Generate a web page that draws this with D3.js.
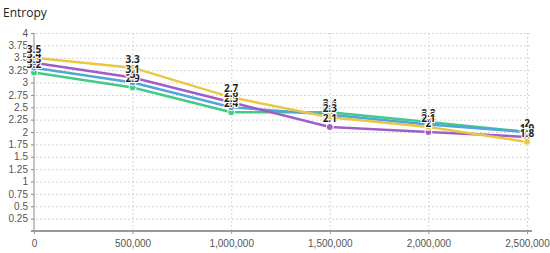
<!DOCTYPE html>
<html>
<head>
<meta charset="utf-8">
<script src="https://cdn.jsdelivr.net/npm/d3@7"></script>
<style>
  body { margin: 0; background: #fff; font-family: "Open Sans", sans-serif; }
  .grid line { stroke: #c8c8c8; stroke-dasharray: 1.5 2.5; }
  .axis text { fill: #555; font-size: 10px; }
</style>
</head>
<body>
<div class="chart"></div>
<script>
var steps = [0, 500000, 1000000, 1500000, 2000000, 2500000];
var yTicks = [0.25, 0.5, 0.75, 1, 1.25, 1.5, 1.75, 2, 2.25, 2.5, 2.75, 3, 3.25, 3.5, 3.75, 4];

var green = [3.2, 2.9, 2.4, 2.4, 2.2, 2.0];
var blue = [3.3, 3.0, 2.5, 2.35, 2.15, 2.0];
var purple = [3.4, 3.1, 2.6, 2.1, 2.0, 1.9];
var yellow = [3.5, 3.3, 2.7, 2.3, 2.1, 1.8];

var series = [
  { name: 'green', values: green, color: '#45c987' },
  { name: 'blue', values: blue, color: '#4ea6dc' },
  { name: 'purple', values: purple, color: '#a05cc8' },
  { name: 'yellow', values: yellow, color: '#ebc642' }
];

var width = 550, height = 253;
var svg = d3.select('.chart').append('svg').attr('width', width).attr('height', height);

var x = d3.scaleLinear().domain([0, 2500000]).range([34, 527]);
var y = d3.scaleLinear().domain([0, 4]).range([231, 33]);

svg.append('text')
  .attr('x', 3).attr('y', 17)
  .attr('font-size', 12).attr('fill', '#222')
  .text('Entropy');

// grid
var grid = svg.append('g').attr('class', 'grid');
grid.selectAll('.h').data(yTicks).enter().append('line')
  .attr('x1', 36).attr('x2', 530)
  .attr('y1', function (d) { return y(d) + 0.5; })
  .attr('y2', function (d) { return y(d) + 0.5; });
grid.selectAll('.v').data(steps.slice(1)).enter().append('line')
  .attr('x1', function (d) { return x(d) + 0.5; })
  .attr('x2', function (d) { return x(d) + 0.5; })
  .attr('y1', 33).attr('y2', 231);

// axes
var yAxis = svg.append('g').attr('class', 'axis')
  .attr('transform', 'translate(34,0)')
  .call(d3.axisLeft(y).tickValues(yTicks).tickSize(3).tickPadding(3).tickFormat(function (d) { return String(d); }));
yAxis.select('.domain').attr('stroke', '#888').attr('d', 'M0,33V231');
yAxis.selectAll('.tick line').attr('stroke', '#888');

var xAxis = svg.append('g').attr('class', 'axis')
  .attr('transform', 'translate(0,231)')
  .call(d3.axisBottom(x).tickValues(steps).tickSize(3).tickPadding(6).tickFormat(d3.format(',')));
xAxis.select('.domain').attr('stroke', '#999').attr('stroke-width', 2).attr('d', 'M31,0H532');
xAxis.selectAll('.tick line').attr('stroke', '#999');

// lines
var line = d3.line()
  .x(function (d, i) { return x(steps[i]); })
  .y(function (d) { return y(d); });

series.forEach(function (s) {
  svg.append('path')
    .datum(s.values)
    .attr('fill', 'none')
    .attr('stroke', s.color)
    .attr('stroke-width', 2.5)
    .attr('d', line);
});

series.forEach(function (s) {
  svg.selectAll(null).data(s.values).enter().append('circle')
    .attr('cx', function (d, i) { return x(steps[i]); })
    .attr('cy', function (d) { return y(d); })
    .attr('r', 3.5)
    .attr('fill', s.color)
    .attr('stroke', '#fff')
    .attr('stroke-width', 1);
});

// value labels
series.forEach(function (s) {
  svg.selectAll(null).data(s.values).enter().append('text')
    .attr('x', function (d, i) { return x(steps[i]); })
    .attr('y', function (d) { return y(d) - 5; })
    .attr('text-anchor', 'middle')
    .attr('font-size', 10)
    .attr('font-weight', 'bold')
    .attr('fill', '#222')
    .attr('stroke', '#fff')
    .attr('stroke-width', 2)
    .attr('paint-order', 'stroke')
    .text(function (d) { return String(Math.round(d * 10) / 10); });
});
</script>
</body>
</html>
